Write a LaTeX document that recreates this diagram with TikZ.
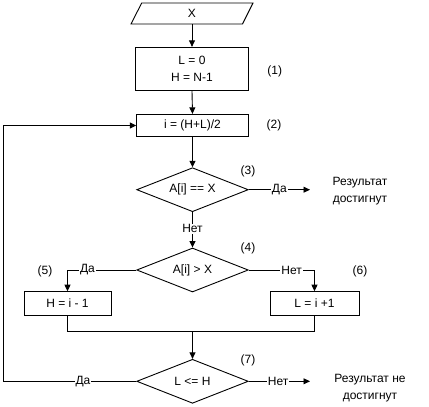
\documentclass[tikz,border=0pt]{standalone}
\usepackage{fontspec}
\setmainfont{Liberation Sans}
\usetikzlibrary{shapes.geometric,arrows.meta}
\begin{document}
\begin{tikzpicture}[x=1pt,y=-1pt,
  every node/.style={font=\fontsize{12}{16.5}\selectfont},
  line/.style={line width=0.9pt},
  arr/.style={line width=0.9pt,-{Triangle[length=6.5pt,width=6pt]}},
  box/.style={draw,line width=0.9pt,rectangle,inner sep=0pt,align=center},
  dia/.style={draw,line width=0.9pt,diamond,aspect=2.5,inner sep=0pt,minimum width=111.6pt,minimum height=44pt},
  lab/.style={fill=white,inner sep=1pt},
  num/.style={inner sep=0pt},
  res/.style={align=center,inner sep=0pt}]
\useasboundingbox (0,0) rectangle (429,407);
% input parallelogram
\node[inner sep=0pt,minimum width=100pt,minimum height=21pt] (inp) at (192,13.5) {X};
\draw[line] (141.7,3) -- (253,3) -- (242.5,24) -- (131,24) -- cycle;
\node[box,minimum width=112.6pt,minimum height=43.4pt] (r1) at (192,69) {L = 0\\H = N-1};
\node[box,minimum width=111.6pt,minimum height=22.4pt] (r2) at (192.5,125.5) {i = (H+L)/2};
\node[dia] (d3) at (192.5,189.7) {A[i] == X};
\node[dia] (d4) at (192.5,270) {A[i] > X};
\node[box,minimum width=87pt,minimum height=23.3pt] (r5) at (67.5,303.3) {H = i - 1};
\node[box,minimum width=89pt,minimum height=23.3pt] (r6) at (314.5,303.3) {L = i +1};
\node[dia] (d7) at (192.5,381.3) {L <= H};
% numbers
\node[num] (n1) at (274.7,71) {(1)};
\node[num] (n2) at (274,125) {(2)};
\node[num] (n3) at (248,171) {(3)};
\node[num] (n4) at (248,248.5) {(4)};
\node[num] (n5) at (45,271) {(5)};
\node[num] (n6) at (360,271) {(6)};
\node[num] (n7) at (248,360) {(7)};
% results
\node[res] (res1) at (360,191) {Результат\\достигнут};
\node[res] (res2) at (370,388) {Результат не\\достигнут};
\coordinate (e3) at (310,189.7);
\coordinate (e7) at (310,381.3);
\coordinate (m) at (192.5,331);
\coordinate (lp) at (3,381.3);
% connectors
\draw[arr] (inp.south) -- (r1.north);
\draw[arr] (r1.south) -- (r2.north);
\draw[arr] (r2.south) -- (d3.north);
\draw[arr] (d3.east) -- node[lab,pos=0.5]{Да} (e3);
\draw[arr] (d3.south) -- node[lab,pos=0.47]{Нет} (d4.north);
\draw[arr] (d4.west) -| node[lab,pos=0.355]{Да} (r5.north);
\draw[arr] (d4.east) -| node[lab,pos=0.326]{Нет} (r6.north);
\draw[line] (r5.south) |- (m);
\draw[line] (r6.south) |- (m);
\draw[arr] (m) -- (d7.north);
\draw[arr] (d7.east) -- node[lab,pos=0.48]{Нет} (e7);
\draw[line] (d7.west) -- node[lab,pos=0.4]{Да} (lp);
\draw[arr] (lp) |- (r2.west);
\end{tikzpicture}
\end{document}
